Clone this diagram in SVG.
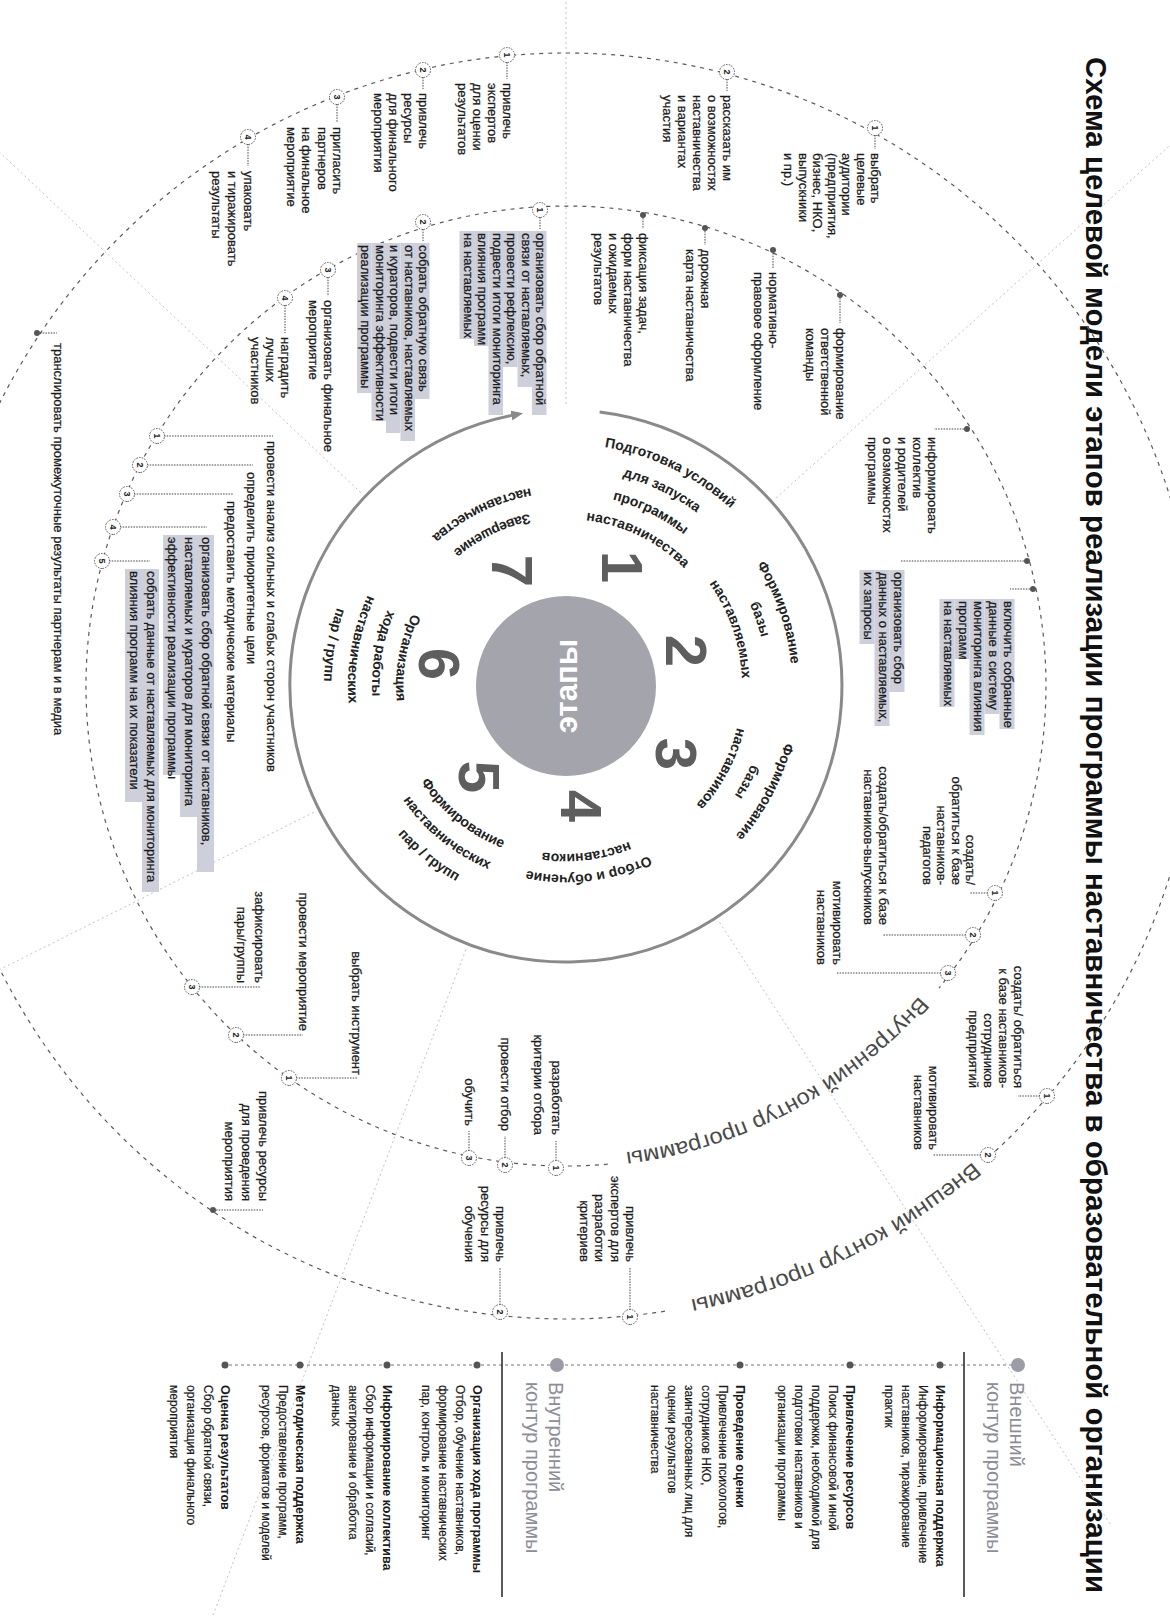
<svg xmlns="http://www.w3.org/2000/svg" width="1170" height="1616" viewBox="0 0 1170 1616">
<defs>
<style>
text{font-family:"Liberation Sans",Arial,sans-serif;}
.t{font-size:13px;fill:#1b1b1b;stroke:#1b1b1b;stroke-width:0.25;}
.e{text-anchor:end;}
.ttl{font-size:29px;font-weight:bold;fill:#111;}
.stg{font-size:14px;font-weight:bold;fill:#222;}
.dig{font-size:58px;font-weight:bold;fill:#5e5e5e;text-anchor:middle;}
.ctr{font-size:31px;font-weight:bold;fill:#fff;text-anchor:middle;}
.clab{font-size:22px;fill:#4a4a4a;}
.lh{font-size:20px;fill:#8d8d97;}
.lb{font-size:12.5px;font-weight:bold;fill:#1b1b1b;}
.lt{font-size:12px;fill:#1b1b1b;stroke:#1b1b1b;stroke-width:0.2;}
.hl{fill:#cdcfdb;}
.ring{fill:none;stroke:#5a5a5a;stroke-width:1.2;stroke-dasharray:4 5;}
.lead{fill:none;stroke:#444;stroke-width:1;stroke-dasharray:1.5 1.2;}
.uline{fill:none;stroke:#222;stroke-width:1.5;}
.ldash{fill:none;stroke:#777;stroke-width:1;stroke-dasharray:3 3;}
.nc{fill:#fff;stroke:#444;stroke-width:0.9;stroke-dasharray:1.6 1.2;}
.nn{font-size:9px;font-weight:bold;fill:#222;text-anchor:middle;}
.dot{fill:#555;}
.bigdot{fill:#9c9ca6;}
.ray{stroke:#c2c2c2;stroke-width:1;stroke-dasharray:2 3;fill:none;}
.arc{fill:none;stroke:#8a8a8a;stroke-width:3;}
</style>
<marker id="ah" viewBox="0 0 12 10" refX="2" refY="5" markerWidth="12" markerHeight="10" markerUnits="userSpaceOnUse" orient="auto"><path d="M0,0 L12,5 L0,10 z" fill="#8a8a8a"/></marker>
<path id="s1a" d="M 485.4 739.3 A 242 242 0 0 1 669.1 362.6"/>
<path id="s1b" d="M 506.1 725.3 A 217 217 0 0 1 670.9 387.5"/>
<path id="s1c" d="M 526.8 711.4 A 192 192 0 0 1 672.6 412.5"/>
<path id="s1d" d="M 547.6 697.4 A 167 167 0 0 1 674.3 437.4"/>
<path id="s2a" d="M 464.2 560.9 A 226 226 0 0 1 834.3 433.4"/>
<path id="s2b" d="M 488.7 565.6 A 201 201 0 0 1 817.9 452.3"/>
<path id="s2c" d="M 513.2 570.4 A 176 176 0 0 1 801.5 471.2"/>
<path id="s3a" d="M 566.2 412.4 A 226 226 0 0 1 911.9 596.1"/>
<path id="s3b" d="M 579.5 433.6 A 201 201 0 0 1 886.9 597.0"/>
<path id="s3c" d="M 592.7 454.8 A 176 176 0 0 1 861.9 597.9"/>
<path id="s4a" d="M 759.8 430.0 A 189 189 0 0 1 799.7 754.9"/>
<path id="s4b" d="M 751.6 449.4 A 168 168 0 0 1 787.1 738.2"/>
<path id="s5a" d="M 658.8 775.9 A 174 174 0 0 0 848.4 541.6"/>
<path id="s5b" d="M 654.9 800.5 A 199 199 0 0 0 871.8 532.7"/>
<path id="s5c" d="M 651.0 825.2 A 224 224 0 0 0 895.1 523.7"/>
<path id="s6a" d="M 526.3 662.1 A 170 170 0 0 0 816.2 713.3"/>
<path id="s6b" d="M 503.7 670.3 A 194 194 0 0 0 834.6 728.7"/>
<path id="s6c" d="M 481.1 678.6 A 218 218 0 0 0 853.0 744.1"/>
<path id="s6d" d="M 458.6 686.8 A 242 242 0 0 0 871.4 759.6"/>
<path id="s7a" d="M 540.1 505.6 A 176 176 0 0 0 673.7 779.6"/>
<path id="s7b" d="M 519.4 491.6 A 201 201 0 0 0 672.0 804.5"/>
<path id="lin" d="M 988.1 244.0 A 470 470 0 0 1 1153.4 554.9"/>
<path id="lout" d="M 1120.9 153.7 A 626 626 0 0 1 1308.6 538.6"/>
</defs>
<rect x="0" y="0" width="1170" height="1616" fill="#ffffff"/>
<g transform="translate(1170,0) rotate(90)">

<g id="title"><text class="ttl" x="57" y="84" textLength="1536" lengthAdjust="spacingAndGlyphs">Схема целевой модели этапов реализации программы наставничества в образовательной организации</text></g>

<g id="rays">
<line class="ray" x1="492.6" y1="809.2" x2="0.2" y2="1331.8"/>
<line class="ray" x1="404" y1="604" x2="-10" y2="604"/>
<line class="ray" x1="497.9" y1="393.9" x2="19" y2="-141.1"/>
<line class="ray" x1="922.5" y1="450.4" x2="1524.7" y2="59.4"/>
<line class="ray" x1="949.6" y1="704.1" x2="1620.8" y2="959.1"/>
<line class="ray" x1="812.3" y1="856.2" x2="1133.8" y2="1498.2"/>
</g>

<g id="connectors">
<path class="ring" d="M 1164.2 562.2 A 480 480 0 1 1 988.1 231.0"/>
<path class="ring" d="M 1311.2 505.0 A 633 633 0 1 1 1156.4 180.5"/>
<path class="arc" d="M 412.1 570.4 A 276 276 0 1 1 415.1 656.7" marker-end="url(#ah)"/>
<path class="lead" d="M135 295H149 M79 443H91 M62 663H79 M77 747H89 M104 833H122 M144 922H166 M333 1130V1113"/>
<path class="lead" d="M217 630H229 M229 747H241 M277 842H296 M305 885H333"/>
<path class="lead" d="M298 330H323 M253 397H268 M231 465H245 M218 527H229 M429 206V236"/>
<path class="lead" d="M561 146V270 M589 140V160"/>
<path class="lead" d="M893 182V200 M935 204V287 M973 229V333 M1096 130V152 M1155 189V237"/>
<path class="lead" d="M1161 614H1141 M1158 665H1136 M1151 701H1131 M1310 540H1268 M1305 670H1268"/>
<path class="lead" d="M1078 874V813 M1035 927V867 M987 971V910 M1210 954V907"/>
<path class="lead" d="M436 1006V897 M465 1023V917 M494 1036V937 M527 1050V963 M561 1061V1020"/>
<path class="ldash" d="M1365 152V945"/>
</g>

<g id="center">
<circle cx="686" cy="604" r="90" fill="#a4a4ac"/>
<text class="ctr" x="686" y="615" transform="rotate(180 686 604)">этапы</text>
<text class="dig" x="567" y="568">1</text>
<text class="dig" x="651" y="504">2</text>
<text class="dig" x="754" y="514">3</text>
<text class="dig" x="806" y="609">4</text>
<text class="dig" x="777" y="711">5</text>
<text class="dig" x="664" y="751">6</text>
<text class="dig" x="571" y="678">7</text>
</g>

<g id="stage1">
<text class="stg" text-anchor="middle"><textPath href="#s1a" startOffset="50%">Подготовка условий</textPath></text>
<text class="stg" text-anchor="middle"><textPath href="#s1b" startOffset="50%">для запуска</textPath></text>
<text class="stg" text-anchor="middle"><textPath href="#s1c" startOffset="50%">программы</textPath></text>
<text class="stg" text-anchor="middle"><textPath href="#s1d" startOffset="50%">наставничества</textPath></text></g>
<g id="stage2">
<text class="stg" text-anchor="middle"><textPath href="#s2a" startOffset="50%">Формирование</textPath></text>
<text class="stg" text-anchor="middle"><textPath href="#s2b" startOffset="50%">базы</textPath></text>
<text class="stg" text-anchor="middle"><textPath href="#s2c" startOffset="50%">наставляемых</textPath></text></g>
<g id="stage3">
<text class="stg" text-anchor="middle"><textPath href="#s3a" startOffset="50%">Формирование</textPath></text>
<text class="stg" text-anchor="middle"><textPath href="#s3b" startOffset="50%">базы</textPath></text>
<text class="stg" text-anchor="middle"><textPath href="#s3c" startOffset="50%">наставников</textPath></text></g>
<g id="stage4">
<text class="stg" text-anchor="middle"><textPath href="#s4a" startOffset="50%">Отбор и обучение</textPath></text>
<text class="stg" text-anchor="middle"><textPath href="#s4b" startOffset="50%">наставников</textPath></text></g>
<g id="stage5">
<text class="stg" text-anchor="middle"><textPath href="#s5a" startOffset="50%">Формирование</textPath></text>
<text class="stg" text-anchor="middle"><textPath href="#s5b" startOffset="50%">наставнических</textPath></text>
<text class="stg" text-anchor="middle"><textPath href="#s5c" startOffset="50%">пар / групп</textPath></text></g>
<g id="stage6">
<text class="stg" text-anchor="middle"><textPath href="#s6a" startOffset="50%">Организация</textPath></text>
<text class="stg" text-anchor="middle"><textPath href="#s6b" startOffset="50%">хода работы</textPath></text>
<text class="stg" text-anchor="middle"><textPath href="#s6c" startOffset="50%">наставнических</textPath></text>
<text class="stg" text-anchor="middle"><textPath href="#s6d" startOffset="50%">пар / групп</textPath></text></g>
<g id="stage7">
<text class="stg" text-anchor="middle"><textPath href="#s7a" startOffset="50%">Завершение</textPath></text>
<text class="stg" text-anchor="middle"><textPath href="#s7b" startOffset="50%">наставничества</textPath></text></g>

<g id="contour-labels">
<text class="clab" text-anchor="middle"><textPath href="#lin" startOffset="50%" textLength="340" lengthAdjust="spacingAndGlyphs">Внутренний контур программы</textPath></text>
<text class="clab" text-anchor="middle"><textPath href="#lout" startOffset="50%" textLength="318" lengthAdjust="spacingAndGlyphs">Внешний контур программы</textPath></text>
</g>

<g id="o1"><circle class="nc" cx="128" cy="295" r="7.5"/><text class="nn" x="128" y="298.3">1</text>
<text class="t"><tspan x="153" y="299">выбрать</tspan><tspan x="153" y="313.5">целевые</tspan><tspan x="153" y="328">аудитории</tspan><tspan x="153" y="342.5">(предприятия,</tspan><tspan x="153" y="357">бизнес, НКО,</tspan><tspan x="153" y="371.5">выпускники</tspan><tspan x="153" y="386">и пр.)</tspan></text></g>
<g id="o2"><circle class="nc" cx="72" cy="443" r="7.5"/><text class="nn" x="72" y="446.3">2</text>
<text class="t"><tspan x="95" y="447">рассказать им</tspan><tspan x="95" y="462">о возможностях</tspan><tspan x="95" y="477">наставничества</tspan><tspan x="95" y="492">и вариантах</tspan><tspan x="95" y="507">участия</tspan></text></g>
<g id="o3"><circle class="nc" cx="55" cy="663" r="7.5"/><text class="nn" x="55" y="666.3">1</text>
<text class="t"><tspan x="83" y="667">привлечь</tspan><tspan x="83" y="682">экспертов</tspan><tspan x="83" y="697">для оценки</tspan><tspan x="83" y="712">результатов</tspan></text></g>
<g id="o4"><circle class="nc" cx="70" cy="747" r="7.5"/><text class="nn" x="70" y="750.3">2</text>
<text class="t"><tspan x="93" y="751">привлечь</tspan><tspan x="93" y="766">ресурсы</tspan><tspan x="93" y="781">для финального</tspan><tspan x="93" y="796">мероприятия</tspan></text></g>
<g id="o5"><circle class="nc" cx="97" cy="833" r="7.5"/><text class="nn" x="97" y="836.3">3</text>
<text class="t"><tspan x="127" y="837">пригласить</tspan><tspan x="127" y="852.5">партнеров</tspan><tspan x="127" y="868">на финальное</tspan><tspan x="127" y="883.5">мероприятие</tspan></text></g>
<g id="o6"><circle class="nc" cx="137" cy="922" r="7.5"/><text class="nn" x="137" y="925.3">4</text>
<text class="t"><tspan x="171" y="926">упаковать</tspan><tspan x="171" y="942">и тиражировать</tspan><tspan x="171" y="958">результаты</tspan></text></g>
<g id="o7"><circle class="dot" cx="333" cy="1133" r="3"/>
<text class="t" x="343" y="1116">транслировать промежуточные результаты партнерам и в медиа</text></g>
<g id="o8"><circle class="nc" cx="1096" cy="123" r="7.5"/><text class="nn" x="1096" y="126.3">1</text>
<text class="t e"><tspan x="1088" y="156">создать/ обратиться</tspan><tspan x="1088" y="171">к базе наставников-</tspan><tspan x="1088" y="186">сотрудников</tspan><tspan x="1088" y="201">предприятий</tspan></text></g>
<g id="o9"><circle class="nc" cx="1155" cy="182" r="7.5"/><text class="nn" x="1155" y="185.3">2</text>
<text class="t e"><tspan x="1150" y="241">мотивировать</tspan><tspan x="1150" y="256">наставников</tspan></text></g>
<g id="o10"><circle class="nc" cx="1317" cy="540" r="7.5"/><text class="nn" x="1317" y="543.3">1</text>
<text class="t e"><tspan x="1262" y="544">привлечь</tspan><tspan x="1262" y="559.5">экспертов для</tspan><tspan x="1262" y="575">разработки</tspan><tspan x="1262" y="590.5">критериев</tspan></text></g>
<g id="o11"><circle class="nc" cx="1312" cy="670" r="7.5"/><text class="nn" x="1312" y="673.3">2</text>
<text class="t e"><tspan x="1262" y="674">привлечь</tspan><tspan x="1262" y="689.5">ресурсы для</tspan><tspan x="1262" y="705">обучения</tspan></text></g>
<g id="o12"><circle class="dot" cx="1210" cy="957" r="3"/>
<text class="t e"><tspan x="1201" y="911">привлечь ресурсы</tspan><tspan x="1201" y="928">для проведения</tspan><tspan x="1201" y="945">мероприятия</tspan></text></g>

<g id="i1"><circle class="dot" cx="295" cy="330" r="3"/>
<text class="t"><tspan x="328" y="334">формирование</tspan><tspan x="328" y="349">ответственной</tspan><tspan x="328" y="364">команды</tspan></text></g>
<g id="i2"><circle class="dot" cx="250" cy="397" r="3"/>
<text class="t"><tspan x="272" y="401">нормативно-</tspan><tspan x="272" y="416">правовое оформление</tspan></text></g>
<g id="i3"><circle class="dot" cx="228" cy="465" r="3"/>
<text class="t"><tspan x="249" y="469">дорожная</tspan><tspan x="249" y="484">карта наставничества</tspan></text></g>
<g id="i4"><circle class="dot" cx="215" cy="527" r="3"/>
<text class="t"><tspan x="233" y="531">фиксация задач,</tspan><tspan x="233" y="546">форм наставничества</tspan><tspan x="233" y="561">и ожидаемых</tspan><tspan x="233" y="576">результатов</tspan></text></g>
<g id="i5"><circle class="dot" cx="429" cy="203" r="3"/>
<text class="t"><tspan x="437" y="242">информировать</tspan><tspan x="437" y="257">коллектив</tspan><tspan x="437" y="272">и родителей</tspan><tspan x="437" y="287">о возможностях</tspan><tspan x="437" y="302">программы</tspan></text></g>
<g id="i6"><circle class="dot" cx="561" cy="143" r="3"/>
<rect class="hl" x="570" y="265.5" width="122" height="15"/><rect class="hl" x="570" y="280.5" width="156" height="15"/><rect class="hl" x="570" y="295.5" width="74" height="15"/>
<text class="t"><tspan x="572" y="276">организовать сбор</tspan><tspan x="572" y="291">данных о наставляемых,</tspan><tspan x="572" y="306">их запросы</tspan></text></g>
<g id="i7"><circle class="dot" cx="589" cy="137" r="3"/>
<rect class="hl" x="599" y="155.5" width="130" height="15"/><rect class="hl" x="599" y="170.5" width="115" height="15"/><rect class="hl" x="599" y="185.5" width="136" height="15"/><rect class="hl" x="599" y="200.5" width="60" height="15"/><rect class="hl" x="599" y="215.5" width="108" height="15"/>
<text class="t"><tspan x="601" y="166">включить собранные</tspan><tspan x="601" y="181">данные в систему</tspan><tspan x="601" y="196">мониторинга влияния</tspan><tspan x="601" y="211">программ</tspan><tspan x="601" y="226">на наставляемых</tspan></text></g>
<g id="i8"><circle class="nc" cx="893" cy="175" r="7.5"/><text class="nn" x="893" y="178.3">1</text>
<text class="t e"><tspan x="885" y="204">создать/</tspan><tspan x="885" y="218.5">обратиться к базе</tspan><tspan x="885" y="233">наставников-</tspan><tspan x="885" y="247.5">педагогов</tspan></text></g>
<g id="i9"><circle class="nc" cx="935" cy="197" r="7.5"/><text class="nn" x="935" y="200.3">2</text>
<text class="t e"><tspan x="925" y="291">создать/обратиться к базе</tspan><tspan x="925" y="306">наставников-выпускников</tspan></text></g>
<g id="i10"><circle class="nc" cx="973" cy="222" r="7.5"/><text class="nn" x="973" y="225.3">3</text>
<text class="t e"><tspan x="965" y="337">мотивировать</tspan><tspan x="965" y="353">наставников</tspan></text></g>
<g id="i11"><circle class="nc" cx="1168" cy="614" r="7.5"/><text class="nn" x="1168" y="617.3">1</text>
<text class="t e"><tspan x="1135" y="618">разработать</tspan><tspan x="1135" y="636">критерии отбора</tspan></text></g>
<g id="i12"><circle class="nc" cx="1165" cy="665" r="7.5"/><text class="nn" x="1165" y="668.3">2</text>
<text class="t e" x="1131" y="669">провести отбор</text></g>
<g id="i13"><circle class="nc" cx="1158" cy="701" r="7.5"/><text class="nn" x="1158" y="704.3">3</text>
<text class="t e" x="1126" y="705">обучить</text></g>
<g id="i14"><circle class="nc" cx="1078" cy="881" r="7.5"/><text class="nn" x="1078" y="884.3">1</text>
<text class="t e" x="1075" y="818">выбрать инструмент</text></g>
<g id="i15"><circle class="nc" cx="1035" cy="934" r="7.5"/><text class="nn" x="1035" y="937.3">2</text>
<text class="t e" x="1031" y="871">провести мероприятие</text></g>
<g id="i16"><circle class="nc" cx="987" cy="978" r="7.5"/><text class="nn" x="987" y="981.3">3</text>
<text class="t e"><tspan x="983" y="915">зафиксировать</tspan><tspan x="983" y="933">пары/группы</tspan></text></g>
<g id="i17"><circle class="nc" cx="436" cy="1013" r="7.5"/><text class="nn" x="436" y="1016.3">1</text>
<text class="t" x="441" y="903.5">провести анализ сильных и слабых сторон участников</text></g>
<g id="i18"><circle class="nc" cx="465" cy="1030" r="7.5"/><text class="nn" x="465" y="1033.3">2</text>
<text class="t" x="472" y="923.5">определить приоритетные цели</text></g>
<g id="i19"><circle class="nc" cx="494" cy="1043" r="7.5"/><text class="nn" x="494" y="1046.3">3</text>
<text class="t" x="501" y="943.5">предоставить методические материалы</text></g>
<g id="i20"><circle class="nc" cx="527" cy="1057" r="7.5"/><text class="nn" x="527" y="1060.3">4</text>
<rect class="hl" x="535" y="956" width="337" height="17"/><rect class="hl" x="535" y="973" width="282" height="17"/><rect class="hl" x="535" y="990" width="240" height="17"/>
<text class="t"><tspan x="537" y="968.5">организовать сбор обратной связи от наставников,</tspan><tspan x="537" y="985.5">наставляемых и кураторов для мониторинга</tspan><tspan x="537" y="1002.5">эффективности реализации программы</tspan></text></g>
<g id="i21"><circle class="nc" cx="561" cy="1068" r="7.5"/><text class="nn" x="561" y="1071.3">5</text>
<rect class="hl" x="569" y="1011" width="323" height="17"/><rect class="hl" x="569" y="1028" width="233" height="17"/>
<text class="t"><tspan x="571" y="1023.5">собрать данные от наставляемых для мониторинга</tspan><tspan x="571" y="1040.5">влияния программ на их показатели</tspan></text></g>
<g id="i22"><circle class="nc" cx="210" cy="630" r="7.5"/><text class="nn" x="210" y="633.3">1</text>
<rect class="hl" x="231" y="623.5" width="184" height="14.5"/><rect class="hl" x="231" y="638" width="156" height="14.5"/><rect class="hl" x="231" y="652.5" width="136" height="14.5"/><rect class="hl" x="231" y="667" width="184" height="14.5"/><rect class="hl" x="231" y="681.5" width="115" height="14.5"/><rect class="hl" x="231" y="696" width="108" height="14.5"/>
<text class="t"><tspan x="233" y="634">организовать сбор обратной</tspan><tspan x="233" y="648.5">связи от наставляемых,</tspan><tspan x="233" y="663">провести рефлексию,</tspan><tspan x="233" y="677.5">подвести итоги мониторинга</tspan><tspan x="233" y="692">влияния программ</tspan><tspan x="233" y="706.5">на наставляемых</tspan></text></g>
<g id="i23"><circle class="nc" cx="222" cy="747" r="7.5"/><text class="nn" x="222" y="750.3">2</text>
<rect class="hl" x="243" y="740.5" width="156" height="14.5"/><rect class="hl" x="243" y="755" width="198" height="14.5"/><rect class="hl" x="243" y="769.5" width="190" height="14.5"/><rect class="hl" x="243" y="784" width="178" height="14.5"/><rect class="hl" x="243" y="798.5" width="150" height="14.5"/>
<text class="t"><tspan x="245" y="751">собрать обратную связь</tspan><tspan x="245" y="765.5">от наставников, наставляемых</tspan><tspan x="245" y="780">и кураторов, подвести итоги</tspan><tspan x="245" y="794.5">мониторинга эффективности</tspan><tspan x="245" y="809">реализации программы</tspan></text></g>
<g id="i24"><circle class="nc" cx="270" cy="842" r="7.5"/><text class="nn" x="270" y="845.3">3</text>
<text class="t"><tspan x="300" y="846">организовать финальное</tspan><tspan x="300" y="861">мероприятие</tspan></text></g>
<g id="i25"><circle class="nc" cx="298" cy="885" r="7.5"/><text class="nn" x="298" y="888.3">4</text>
<text class="t"><tspan x="337" y="889">наградить</tspan><tspan x="337" y="904">лучших</tspan><tspan x="337" y="919">участников</tspan></text></g>

<g id="legend-external">
<circle class="bigdot" cx="1365" cy="152" r="7"/>
<text class="lh"><tspan x="1382" y="160">Внешний</tspan><tspan x="1382" y="183">контур программы</tspan></text>
<line class="uline" x1="1352" y1="206" x2="1597" y2="206"/>
<circle class="dot" cx="1365" cy="230" r="3.5"/>
<text><tspan class="lb" x="1385" y="234">Информационная поддержка</tspan><tspan class="lt" x="1385" y="251">Информирование, привлечение</tspan><tspan class="lt" x="1385" y="268">наставников, тиражирование</tspan><tspan class="lt" x="1385" y="285">практик</tspan></text>
<circle class="dot" cx="1365" cy="320" r="3.5"/>
<text><tspan class="lb" x="1385" y="324">Привлечение ресурсов</tspan><tspan class="lt" x="1385" y="341">Поиск финансовой и иной</tspan><tspan class="lt" x="1385" y="358">поддержки, необходимой для</tspan><tspan class="lt" x="1385" y="375">подготовки наставников и</tspan><tspan class="lt" x="1385" y="392">организации программы</tspan></text>
<circle class="dot" cx="1365" cy="430" r="3.5"/>
<text><tspan class="lb" x="1385" y="434">Проведение оценки</tspan><tspan class="lt" x="1385" y="451">Привлечение психологов,</tspan><tspan class="lt" x="1385" y="468">сотрудников НКО,</tspan><tspan class="lt" x="1385" y="485">заинтересованных лиц для</tspan><tspan class="lt" x="1385" y="502">оценки результатов</tspan><tspan class="lt" x="1385" y="519">наставничества</tspan></text>
</g>
<g id="legend-internal">
<circle class="bigdot" cx="1365" cy="613" r="7"/>
<text class="lh"><tspan x="1382" y="621">Внутренний</tspan><tspan x="1382" y="644">контур программы</tspan></text>
<line class="uline" x1="1352" y1="668" x2="1597" y2="668"/>
<circle class="dot" cx="1365" cy="693" r="3.5"/>
<text><tspan class="lb" x="1385" y="697">Организация хода программы</tspan><tspan class="lt" x="1385" y="714">Отбор, обучение наставников,</tspan><tspan class="lt" x="1385" y="731">формирование наставнических</tspan><tspan class="lt" x="1385" y="748">пар, контроль и мониторинг</tspan></text>
<circle class="dot" cx="1365" cy="783" r="3.5"/>
<text><tspan class="lb" x="1385" y="787">Информирование коллектива</tspan><tspan class="lt" x="1385" y="804">Сбор информации и согласий,</tspan><tspan class="lt" x="1385" y="821">анкетирование и обработка</tspan><tspan class="lt" x="1385" y="838">данных</tspan></text>
<circle class="dot" cx="1365" cy="870" r="3.5"/>
<text><tspan class="lb" x="1385" y="874">Методическая поддержка</tspan><tspan class="lt" x="1385" y="891">Предоставление программ,</tspan><tspan class="lt" x="1385" y="908">ресурсов, форматов и моделей</tspan></text>
<circle class="dot" cx="1365" cy="945" r="3.5"/>
<text><tspan class="lb" x="1385" y="949">Оценка результатов</tspan><tspan class="lt" x="1385" y="966">Сбор обратной связи,</tspan><tspan class="lt" x="1385" y="983">организация финального</tspan><tspan class="lt" x="1385" y="1000">мероприятия</tspan></text>
</g>
</g>
</svg>
